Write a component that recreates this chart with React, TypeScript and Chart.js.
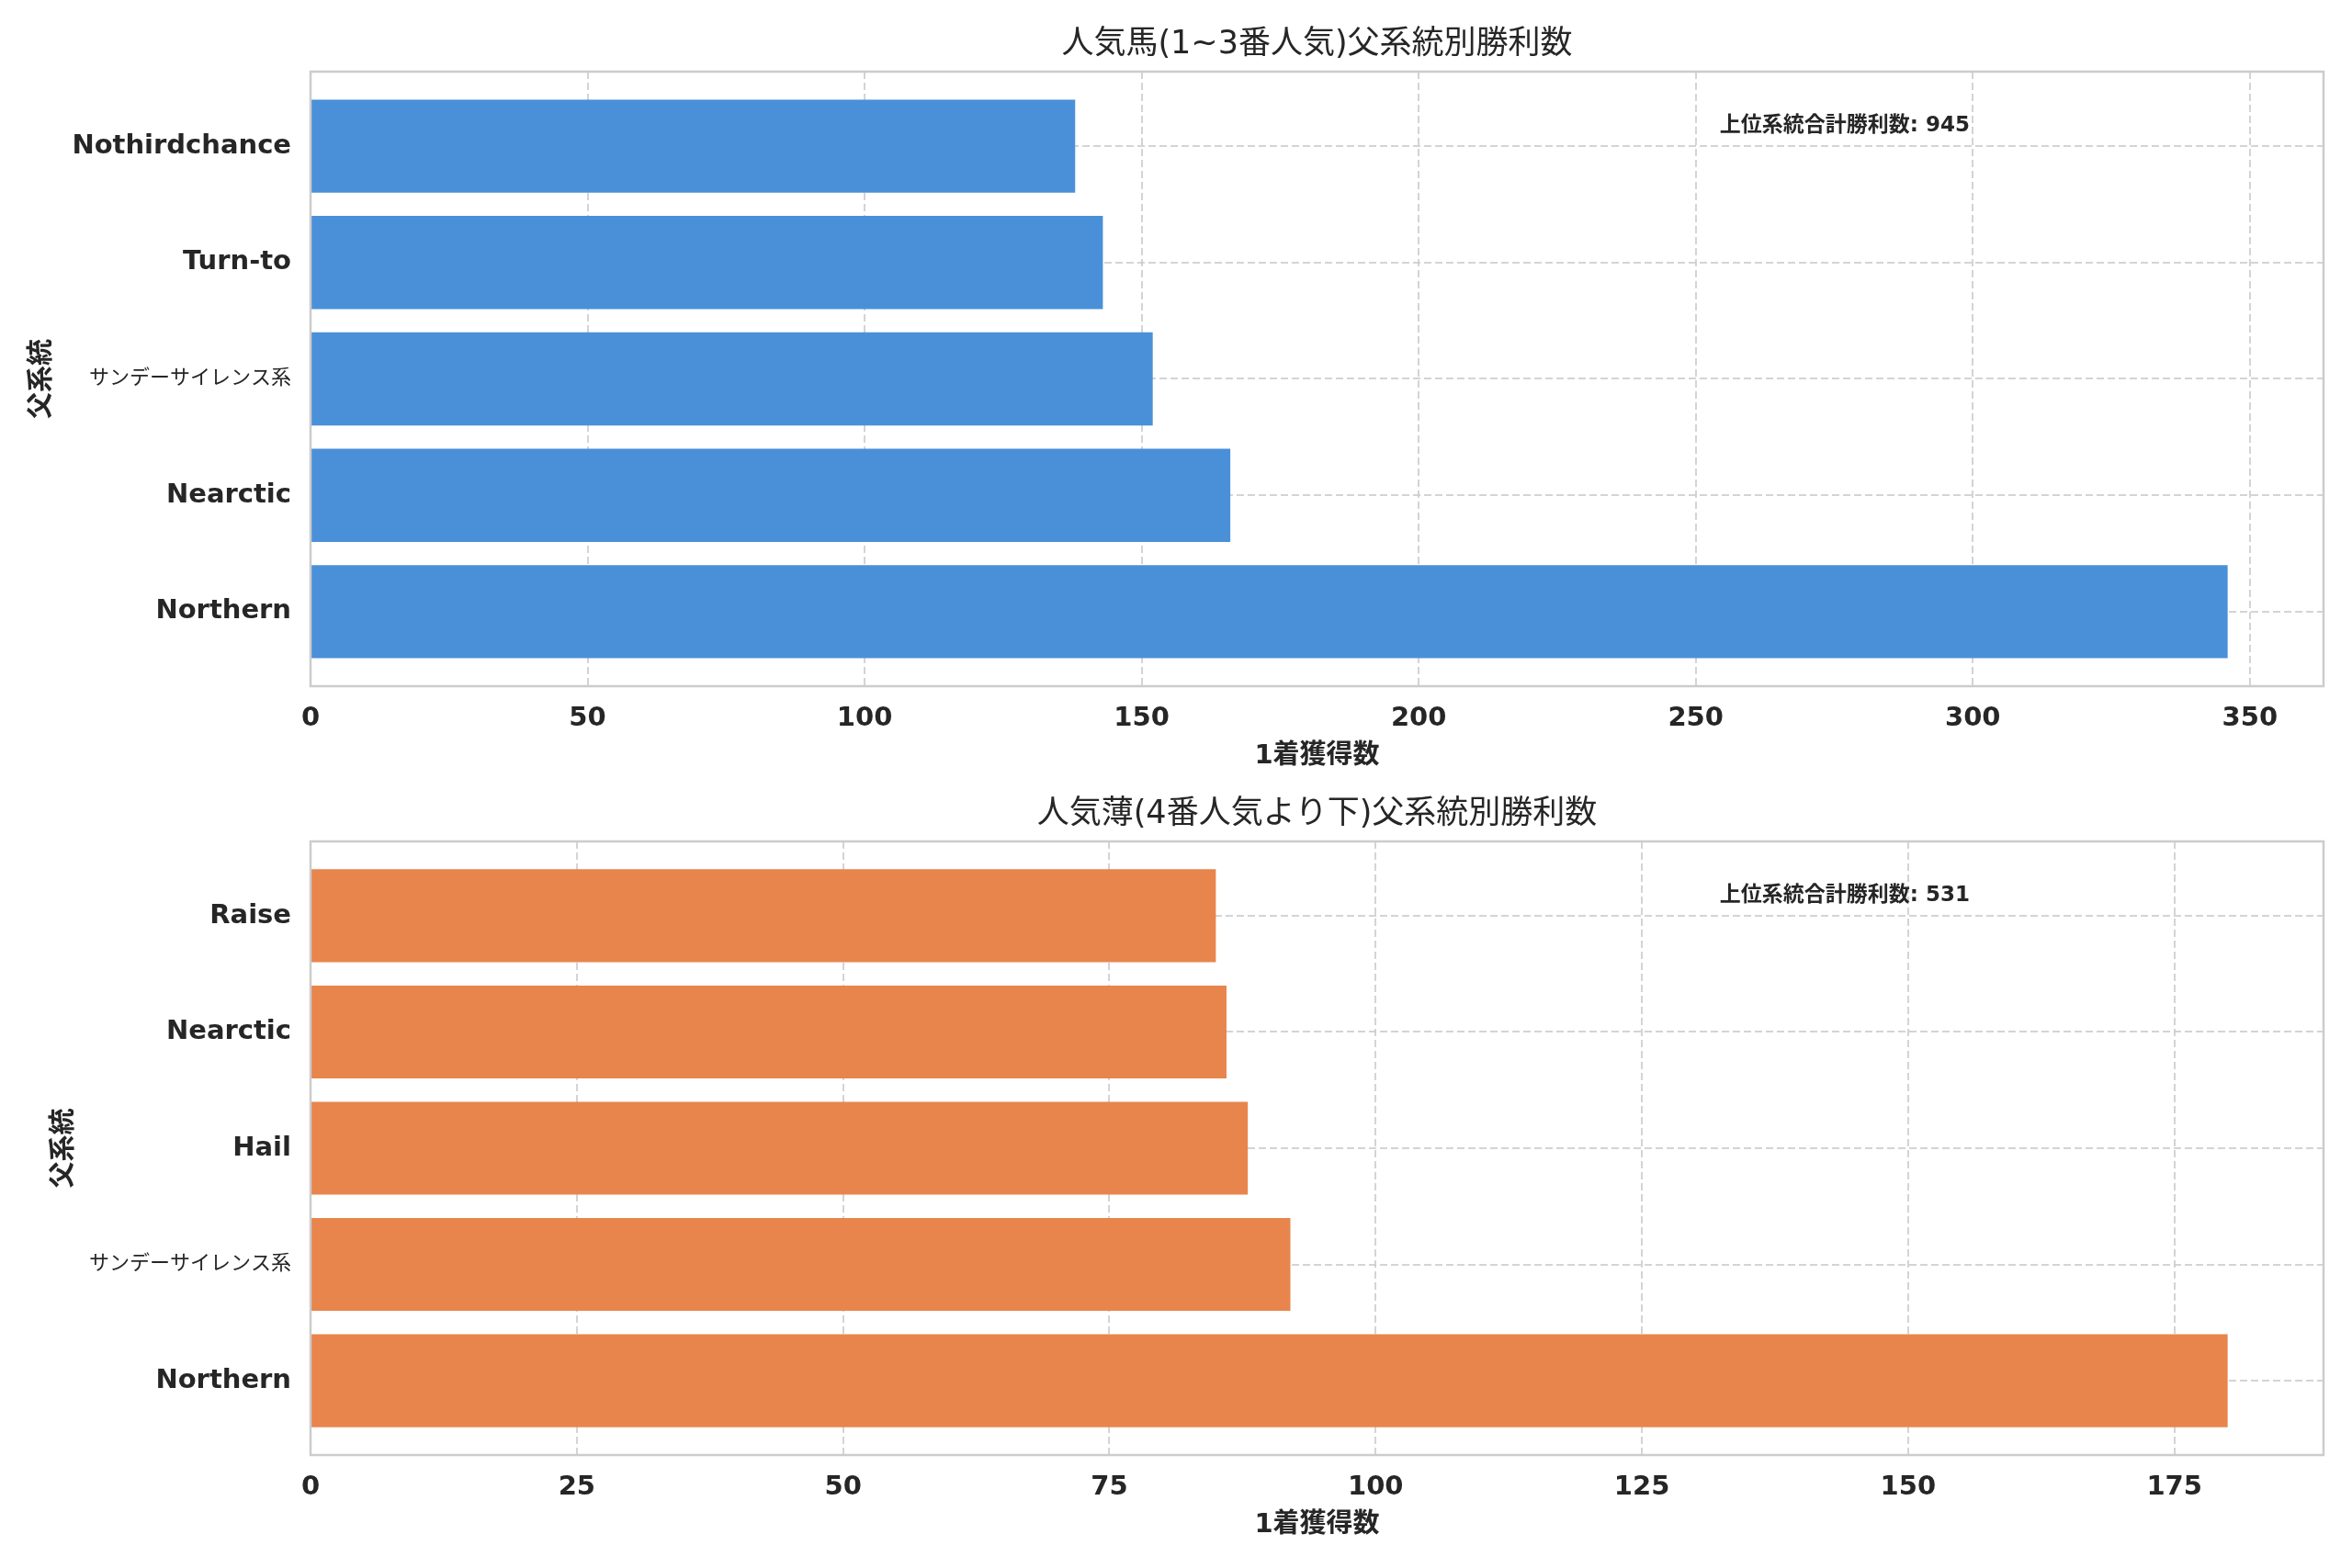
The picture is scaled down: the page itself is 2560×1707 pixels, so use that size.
import React, { useEffect, useRef } from 'react';
import { Chart, registerables } from 'chart.js';

Chart.register(...registerables);

const FONT = "'DejaVu Sans', 'Noto Sans CJK JP', sans-serif";
const TEXT = '#262626';
const GRID = 'rgba(204, 204, 204, 0.85)';

// 人気馬 (1~3番人気) - index 0 is the bottom bar
const favoriteLines = ['Northern', 'Nearctic', 'サンデーサイレンス系', 'Turn-to', 'Nothirdchance'];
const favoriteWins = [346, 166, 152, 143, 138];
const favoriteTicks = [0, 50, 100, 150, 200, 250, 300, 350];

// 人気薄 (4番人気より下)
const longshotLines = ['Northern', 'サンデーサイレンス系', 'Hail', 'Nearctic', 'Raise'];
const longshotWins = [180, 92, 88, 86, 85];
const longshotTicks = [0, 25, 50, 75, 100, 125, 150, 175];

const yAxisTitle = '父系統';
const xAxisTitle = '1着獲得数';
const totalLabel = '上位系統合計勝利数';

type PanelProps = {
  title: string;
  lines: string[];
  wins: number[];
  ticks: number[];
  color: string;
  top: number;
  height: number;
  padLeft: number;
  titleTop: number;
  bottomPad: number;
};

const PLOT_LEFT = 338;
const X_AXIS_HEIGHT = 106;

const BarPanel = ({ title, lines, wins, ticks, color, top, height, padLeft, titleTop, bottomPad }: PanelProps) => {
  const canvasRef = useRef<HTMLCanvasElement>(null);

  useEffect(() => {
    if (!canvasRef.current) return;
    const ctx = canvasRef.current.getContext('2d');
    if (!ctx) return;

    const total = wins.reduce((a, b) => a + b, 0);

    // full box around the plot area, like matplotlib spines
    const frame = {
      id: 'frame',
      afterDatasetsDraw(chart: Chart) {
        const { ctx: c, chartArea: a } = chart;
        c.save();
        c.strokeStyle = '#cccccc';
        c.lineWidth = 2.5;
        c.strokeRect(a.left, a.top, a.right - a.left, a.bottom - a.top);
        c.restore();
      },
    };

    // total annotation in the upper right
    const totalText = {
      id: 'totalText',
      afterDatasetsDraw(chart: Chart) {
        const { ctx: c, chartArea: a } = chart;
        c.save();
        c.fillStyle = TEXT;
        c.font = `bold 23px ${FONT}`;
        c.textAlign = 'left';
        c.textBaseline = 'middle';
        c.fillText(`${totalLabel}: ${total}`, a.left + 0.7 * (a.right - a.left), a.top + 0.088 * (a.bottom - a.top));
        c.restore();
      },
    };

    const chart = new Chart(ctx, {
      type: 'bar',
      data: {
        datasets: [
          {
            data: wins.map((v, i) => ({ x: v, y: i })),
            backgroundColor: color,
            borderWidth: 0,
            categoryPercentage: 0.8,
            barPercentage: 1,
          },
        ],
      },
      options: {
        indexAxis: 'y',
        responsive: false,
        animation: false,
        devicePixelRatio: 1,
        layout: { padding: { left: padLeft, right: 31, top: 0, bottom: bottomPad } },
        plugins: {
          legend: { display: false },
          tooltip: { enabled: false },
          title: {
            display: true,
            text: title,
            fullSize: false,
            color: TEXT,
            font: { family: FONT, size: 35, weight: 'normal' },
            padding: { top: titleTop, bottom: 8 },
          },
        },
        scales: {
          x: {
            type: 'linear',
            min: 0,
            max: Math.max(...wins) * 1.05,
            afterBuildTicks: (s: any) => {
              s.ticks = ticks.map((v) => ({ value: v }));
            },
            afterFit: (s: any) => {
              s.height = X_AXIS_HEIGHT;
            },
            grid: { color: GRID, lineWidth: 2, drawTicks: false },
            border: { display: false, dash: [8, 4] },
            ticks: {
              color: TEXT,
              padding: 18,
              autoSkip: false,
              font: { family: FONT, size: 29, weight: 'bold' },
            },
            title: {
              display: true,
              text: xAxisTitle,
              color: TEXT,
              font: { family: FONT, size: 29, weight: 'bold' },
              padding: { top: 3, bottom: 12 },
            },
          },
          y: {
            type: 'linear',
            min: -0.64,
            max: 4.64,
            offset: false,
            afterBuildTicks: (s: any) => {
              s.ticks = lines.map((_, i) => ({ value: i }));
            },
            afterFit: (s: any) => {
              s.width = PLOT_LEFT - padLeft;
            },
            grid: { color: GRID, lineWidth: 2, drawTicks: false, offset: false },
            border: { display: false, dash: [8, 4] },
            ticks: {
              color: TEXT,
              padding: 21,
              autoSkip: false,
              callback: (v: any) => lines[v] ?? '',
              font: (c: any) => {
                const label = lines[c.tick?.value] ?? '';
                return /[^\x00-\x7F]/.test(label)
                  ? { family: FONT, size: 22, weight: 'normal' }
                  : { family: FONT, size: 29, weight: 'bold' };
              },
            },
            title: {
              display: true,
              text: yAxisTitle,
              color: TEXT,
              font: { family: FONT, size: 29, weight: 'bold' },
              padding: { top: 29, bottom: 0 },
            },
          },
        },
      },
      plugins: [frame, totalText],
    });

    return () => {
      chart.destroy();
    };
  }, [title, lines, wins, ticks, color, padLeft, titleTop, bottomPad]);

  return (
    <canvas
      ref={canvasRef}
      width={2560}
      height={height}
      style={{ position: 'absolute', left: 0, top, width: 2560, height }}
    />
  );
};

const App = () => {
  return (
    <div style={{ position: 'fixed', left: 0, top: 0, width: 2560, height: 1707, background: '#ffffff', overflow: 'hidden' }}>
      <BarPanel
        title="人気馬(1~3番人気)父系統別勝利数"
        lines={favoriteLines}
        wins={favoriteWins}
        ticks={favoriteTicks}
        color="#4a90d9"
        top={0}
        height={853}
        padLeft={0}
        titleTop={28}
        bottomPad={0}
      />
      <BarPanel
        title="人気薄(4番人気より下)父系統別勝利数"
        lines={longshotLines}
        wins={longshotWins}
        ticks={longshotTicks}
        color="#e8854c"
        top={853}
        height={854}
        padLeft={24}
        titleTop={13}
        bottomPad={17}
      />
    </div>
  );
};

export default App;
